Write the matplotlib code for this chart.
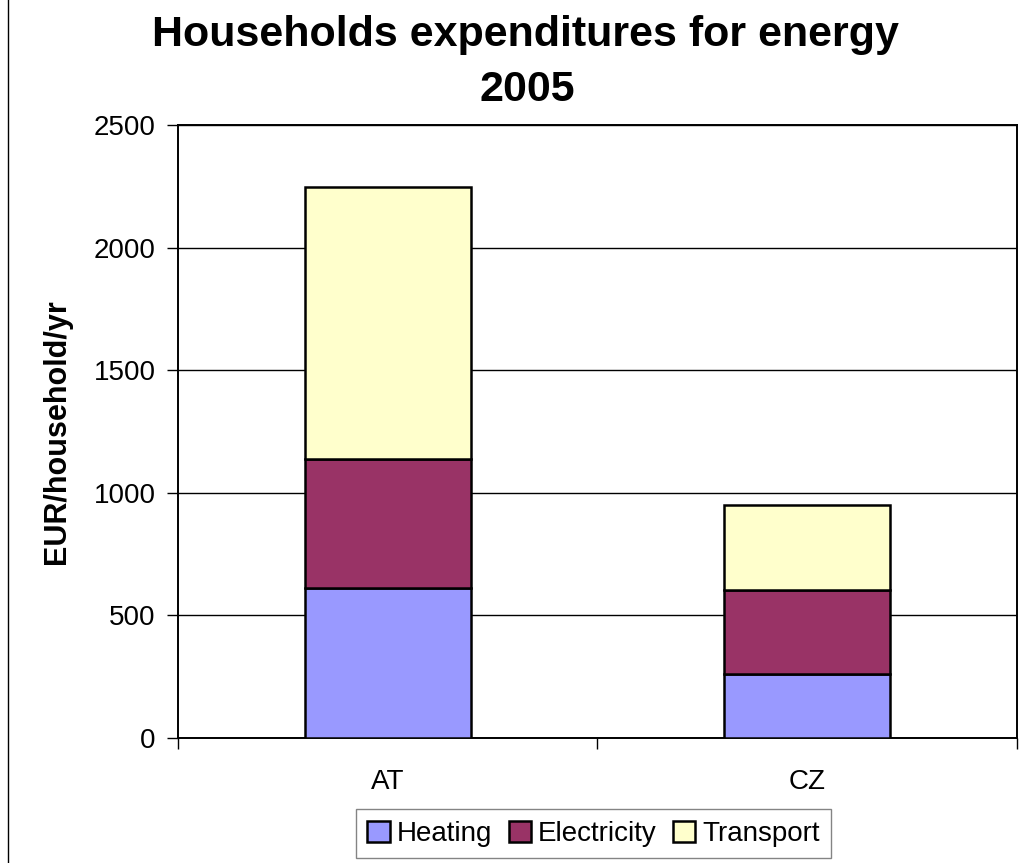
import matplotlib.pyplot as plt
import numpy as np

countries = ['AT', 'CZ']
heating = [612, 261]
electricity = [527, 344]
transport = [1107, 346]
y_ticks = [0, 500, 1000, 1500, 2000, 2500]

plt.rcParams['font.family'] = ['Liberation Sans', 'DejaVu Sans']

fig = plt.figure(figsize=(10.2, 8.63), dpi=100)
ax = fig.add_axes([0.1745, 0.1449, 0.8225, 0.7103])

x = np.arange(len(countries))
w = 0.396
edge = dict(edgecolor='black', linewidth=1.8)
ax.bar(x, heating, w, color='#9999FF', label='Heating', **edge, zorder=3)
ax.bar(x, electricity, w, bottom=heating, color='#993366', label='Electricity', **edge, zorder=3)
bottom2 = np.array(heating) + np.array(electricity)
ax.bar(x, transport, w, bottom=bottom2, color='#FFFFCC', label='Transport', **edge, zorder=3)

ax.set_xlim(-0.5, 1.5)
ax.set_ylim(0, 2500)
ax.set_yticks(y_ticks)
ax.yaxis.grid(True, color='black', linewidth=1.0, zorder=0)

# category ticks between groups, labels at the group centres
ax.set_xticks([-0.5, 0.5, 1.5])
ax.set_xticklabels([])
ax.set_xticks(x, minor=True)
ax.set_xticklabels(countries, minor=True)
ax.tick_params(axis='x', which='minor', length=0, pad=22, labelsize=20)
ax.tick_params(axis='x', which='major', length=8, direction='out', width=1)
ax.tick_params(axis='y', length=8, direction='out', width=1, labelsize=20, pad=8)

for s in ax.spines.values():
    s.set_linewidth(1.4)

ax.set_ylabel('EUR/household/yr', fontsize=22, fontweight='bold')
ax.yaxis.set_label_coords(-0.126, 0.5)
fig.text(0.515, 0.96, 'Households expenditures for energy', ha='center', va='center',
         fontsize=31, fontweight='bold')
fig.text(0.517, 0.896, '2005', ha='center', va='center', fontsize=31, fontweight='bold')

leg = fig.legend(loc='center', bbox_to_anchor=(0.582, 0.034), ncol=3, fontsize=20,
                 frameon=True, fancybox=False, edgecolor='#666666',
                 handlelength=0.8, handleheight=0.8, handletextpad=0.25, columnspacing=0.6,
                 borderpad=0.4)

# left border line from the source slide
fig.add_artist(plt.Line2D([0.008, 0.008], [0, 1], color='black', linewidth=1.0))

plt.savefig('out.png', dpi=100)
